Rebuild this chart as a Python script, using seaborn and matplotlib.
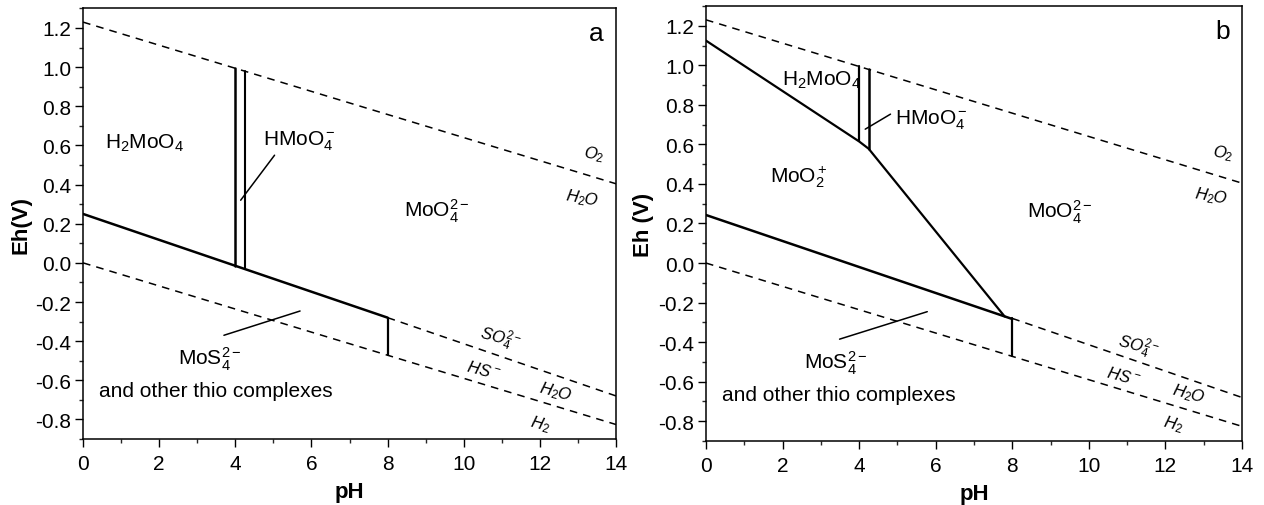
import numpy as np
import pandas as pd
import matplotlib
matplotlib.use("Agg")
import matplotlib.pyplot as plt
import seaborn as sns
from matplotlib.ticker import MultipleLocator

# water stability limits (both panels)
ph_water = [0, 14]
eh_o2 = [1.23, 0.404]
eh_h2 = [0.0, -0.826]

# sulfate / sulfide boundary
ph_so4_solid = [0, 8]
eh_so4_solid_a = [0.25, -0.28]
eh_so4_solid_b = [0.243, -0.283]
ph_so4_dash = [8, 14]
eh_so4_dash = [-0.28, -0.68]

# vertical boundary at pH 8
ph_v8 = [8, 8]
eh_v8 = [-0.28, -0.472]

# H2MoO4 / HMoO4- / MoO4 2- boundaries
ph_v1 = [4.0, 4.0]
ph_v2 = [4.25, 4.25]
eh_v1_a = [0.996, -0.015]
eh_v2_a = [0.98, -0.03]
eh_v1_b = [0.996, 0.615]
eh_v2_b = [0.98, 0.578]

# MoO2+ upper boundary (panel b)
ph_moo2 = [0, 4.0, 4.25, 7.8]
eh_moo2 = [1.125, 0.615, 0.578, -0.27]

# leader lines
lead_hmoo4_a = ([4.14, 5.03], [0.32, 0.55])
lead_mos4_a = ([3.7, 5.7], [-0.37, -0.246])
lead_hmoo4_b = ([4.16, 4.82], [0.677, 0.753])
lead_mos4_b = ([3.49, 5.78], [-0.385, -0.246])

sns.set_theme(style="ticks")
plt.rcParams["font.family"] = ["Liberation Sans", "DejaVu Sans"]
plt.rcParams["mathtext.fontset"] = "custom"
plt.rcParams["mathtext.rm"] = "Liberation Sans"
plt.rcParams["mathtext.it"] = "Liberation Sans:italic"
plt.rcParams["mathtext.bf"] = "Liberation Sans:bold"
plt.rcParams["axes.unicode_minus"] = False
plt.rcParams["text.color"] = "black"
plt.rcParams["axes.labelcolor"] = "black"

fig = plt.figure(figsize=(12.64, 5.06), dpi=100)
ax_a = fig.add_axes([0.0657, 0.1304, 0.4217, 0.851])
ax_b = fig.add_axes([0.5585, 0.1265, 0.4241, 0.8597])

DASH = (0, (5, 4))


def seg(ax, x, y, lw=1.6, ls="-"):
    df = pd.DataFrame({"x": x, "y": y})
    sns.lineplot(data=df, x="x", y="y", ax=ax, color="black", lw=lw,
                 linestyle=ls, sort=False, estimator=None)


def common(ax, ylabel, letter):
    seg(ax, ph_water, eh_o2, lw=1.1, ls=DASH)
    seg(ax, ph_water, eh_h2, lw=1.1, ls=DASH)
    seg(ax, ph_so4_dash, eh_so4_dash, lw=1.1, ls=DASH)
    seg(ax, ph_v8, eh_v8)
    ax.set_xlim(0, 14)
    ax.set_ylim(-0.9, 1.3)
    ax.xaxis.set_major_locator(MultipleLocator(2))
    ax.xaxis.set_minor_locator(MultipleLocator(1))
    ax.yaxis.set_major_locator(MultipleLocator(0.2))
    ax.yaxis.set_minor_locator(MultipleLocator(0.1))
    ax.yaxis.set_major_formatter(matplotlib.ticker.FormatStrFormatter("%.1f"))
    ax.tick_params(which="major", direction="out", length=5.5, width=1,
                   labelsize=15, colors="black", pad=3)
    ax.tick_params(axis="x", which="major", pad=5)
    ax.tick_params(which="minor", direction="out", length=3, width=1)
    for s in ax.spines.values():
        s.set_visible(True)
        s.set_linewidth(1.1)
        s.set_color("black")
    ax.set_xlabel("pH", fontsize=16, fontweight="bold", labelpad=6)
    ax.set_ylabel(ylabel, fontsize=16, fontweight="bold", labelpad=3)
    ax.text(13.68, 1.14, letter, fontsize=19, ha="right", va="baseline")


fs = 15
fi = 12

# ---- panel a ----
common(ax_a, "Eh(V)", "a")
seg(ax_a, ph_so4_solid, eh_so4_solid_a, lw=1.8)
seg(ax_a, ph_v1, eh_v1_a, lw=1.8)
seg(ax_a, ph_v2, eh_v2_a, lw=1.5)
seg(ax_a, *lead_hmoo4_a, lw=1.1)
seg(ax_a, *lead_mos4_a, lw=1.1)

ax_a.text(0.57, 0.586, r"H$_2$MoO$_4$", fontsize=fs)
ax_a.text(4.73, 0.607, r"HMoO$_4^-$", fontsize=fs)
ax_a.text(8.43, 0.237, r"MoO$_4^{2-}$", fontsize=fs)
ax_a.text(2.5, -0.519, r"MoS$_4^{2-}$", fontsize=fs)
ax_a.text(0.43, -0.68, "and other thio complexes", fontsize=fs)
ax_a.text(13.42, 0.56, r"$O_2$", fontsize=fi, ha="center", va="center", rotation=-10)
ax_a.text(13.1, 0.335, r"$H_2O$", fontsize=fi, ha="center", va="center", rotation=-10)
ax_a.text(10.95, -0.38, r"$SO_4^{2-}$", fontsize=fi, ha="center", va="center", rotation=-15)
ax_a.text(10.52, -0.545, r"$HS^-$", fontsize=fi, ha="center", va="center", rotation=-15)
ax_a.text(12.4, -0.655, r"$H_2O$", fontsize=fi, ha="center", va="center", rotation=-15)
ax_a.text(12.0, -0.82, r"$H_2$", fontsize=fi, ha="center", va="center", rotation=-15)

# ---- panel b ----
common(ax_b, "Eh (V)", "b")
seg(ax_b, ph_so4_solid, eh_so4_solid_b, lw=1.8)
seg(ax_b, ph_moo2, eh_moo2, lw=1.6)
seg(ax_b, ph_v1, eh_v1_b, lw=1.6)
seg(ax_b, ph_v2, eh_v2_b, lw=1.8)
seg(ax_b, *lead_hmoo4_b, lw=1.1)
seg(ax_b, *lead_mos4_b, lw=1.1)

ax_b.text(1.98, 0.90, r"H$_2$MoO$_4$", fontsize=fs)
ax_b.text(4.94, 0.707, r"HMoO$_4^-$", fontsize=fs)
ax_b.text(1.67, 0.41, r"MoO$_2^+$", fontsize=fs)
ax_b.text(8.38, 0.23, r"MoO$_4^{2-}$", fontsize=fs)
ax_b.text(2.55, -0.533, r"MoS$_4^{2-}$", fontsize=fs)
ax_b.text(0.42, -0.695, "and other thio complexes", fontsize=fs)
ax_b.text(13.5, 0.56, r"$O_2$", fontsize=fi, ha="center", va="center", rotation=-10)
ax_b.text(13.2, 0.34, r"$H_2O$", fontsize=fi, ha="center", va="center", rotation=-10)
ax_b.text(11.3, -0.42, r"$SO_4^{2-}$", fontsize=fi, ha="center", va="center", rotation=-15)
ax_b.text(10.9, -0.57, r"$HS^-$", fontsize=fi, ha="center", va="center", rotation=-15)
ax_b.text(12.6, -0.66, r"$H_2O$", fontsize=fi, ha="center", va="center", rotation=-15)
ax_b.text(12.2, -0.81, r"$H_2$", fontsize=fi, ha="center", va="center", rotation=-15)

for ax in (ax_a, ax_b):
    leg = ax.get_legend()
    if leg is not None:
        leg.remove()

fig.savefig("out.png", dpi=100)
